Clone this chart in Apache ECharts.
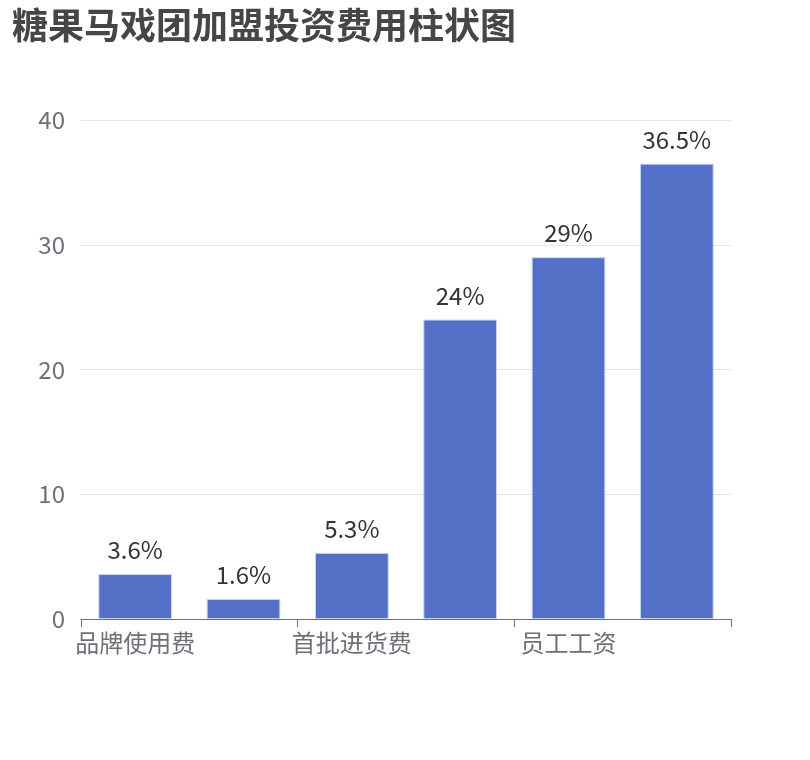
<!DOCTYPE html>
<html>
<head>
<meta charset="utf-8">
<script src="https://cdn.jsdelivr.net/npm/echarts@6/dist/echarts.min.js"></script>
<style>html,body{margin:0;padding:0;background:#fff}#main{width:810px;height:760px}</style>
</head>
<body>
<div id="main"></div>
<script>
var titleText = '糖果马戏团加盟投资费用柱状图';
var categories = ['品牌使用费', '加盟保证金', '首批进货费', '店面装修费', '员工工资', '店面租金'];
var values = [3.6, 1.6, 5.3, 24, 29, 36.5];
var yMin = 0, yMax = 40, yInterval = 10;

var font = '"Noto Sans CJK SC", "Noto Sans", sans-serif';
var chart = echarts.init(document.getElementById('main'));
chart.setOption({
  animation: false,
  textStyle: { fontFamily: font },
  title: {
    text: titleText,
    left: 7, top: 2,
    textStyle: { fontSize: 36, fontWeight: 'bold', color: '#464646', fontFamily: font }
  },
  grid: { left: 81, right: 79, top: 120, bottom: 141, containLabel: false },
  xAxis: {
    type: 'category',
    data: categories,
    axisTick: { show: true, length: 8, lineStyle: { color: '#6E7079' } },
    axisLabel: { fontSize: 24, color: '#6E7079', margin: 12 },
    axisLine: { lineStyle: { color: '#6E7079' } }
  },
  yAxis: {
    type: 'value',
    min: yMin, max: yMax, interval: yInterval,
    axisLabel: { fontSize: 24, color: '#6E7079', margin: 16 },
    splitLine: { lineStyle: { color: '#E0E6F1' } }
  },
  series: [{
    type: 'bar',
    data: values,
    barWidth: '68%',
    itemStyle: { color: '#5470C6', borderColor: '#c9d3f0', borderWidth: 1 },
    label: {
      show: true, position: 'top', fontSize: 24, color: '#333', distance: 12,
      formatter: function (p) { return p.value + '%'; }
    }
  }]
});
</script>
</body>
</html>
